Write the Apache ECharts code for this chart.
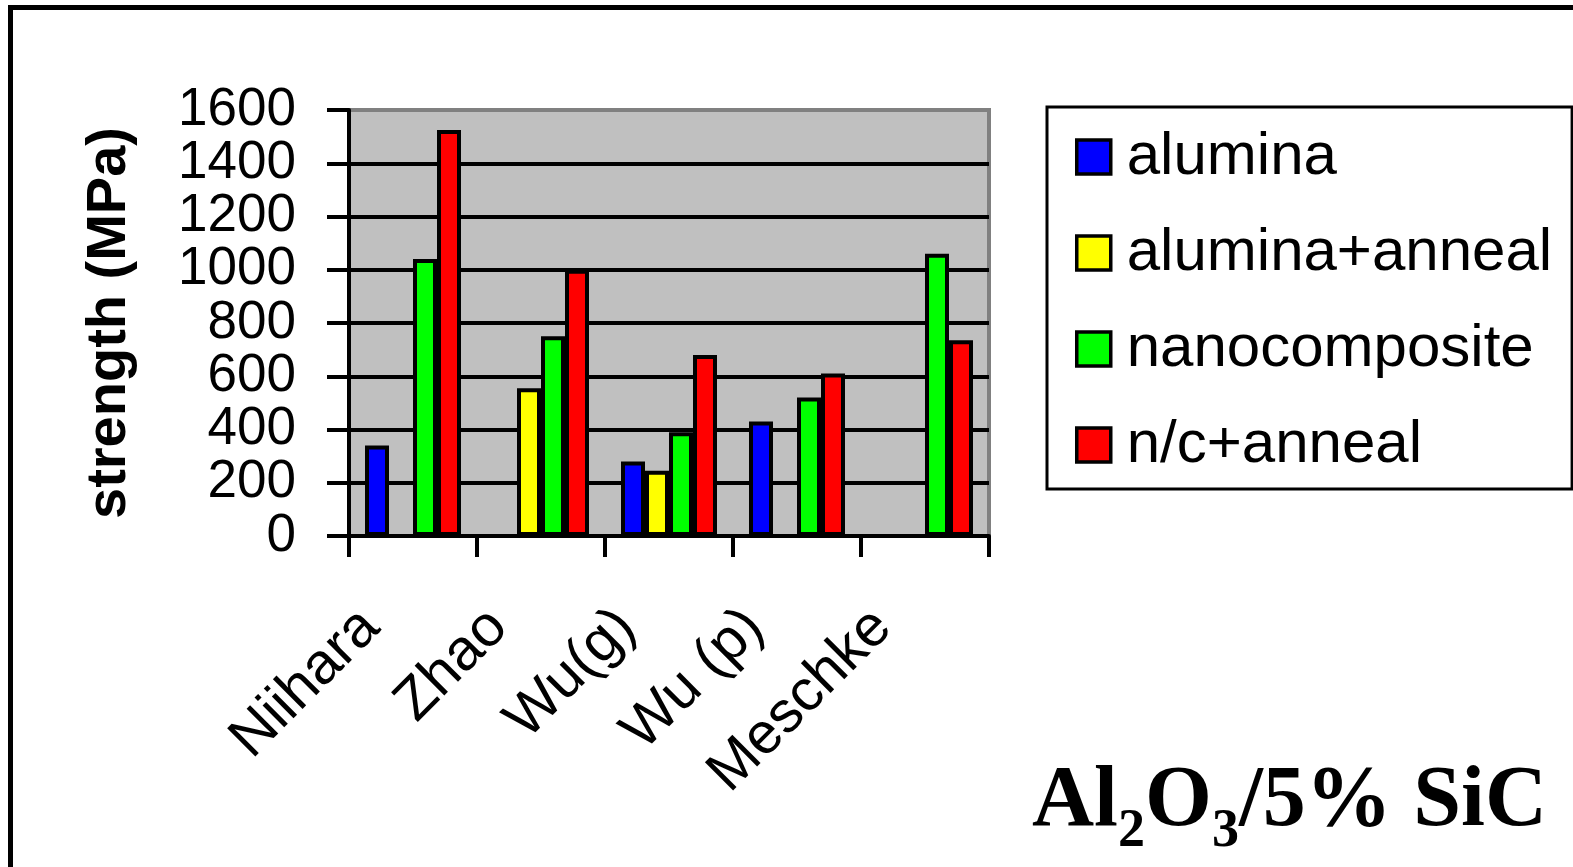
<!DOCTYPE html>
<html>
<head>
<meta charset="utf-8">
<title>Al2O3/5% SiC strength</title>
<script src="https://cdn.jsdelivr.net/npm/echarts@6/dist/echarts.min.js"></script>
<style>
  html, body { margin: 0; padding: 0; background: #fff; }
  #chart { width: 1573px; height: 867px; }
</style>
</head>
<body>
<div id="chart"></div>
<script>
// Bend strength by study and processing route
const categories = ['Niihara', 'Zhao', 'Wu(g)', 'Wu (p)', 'Meschke'];
const seriesNames = ['alumina', 'alumina+anneal', 'nanocomposite', 'n/c+anneal'];
const alumina = [340, null, 280, 430, null];
const aluminaAnneal = [null, 555, 245, null, null];
const nanocomposite = [1040, 750, 390, 520, 1060];
const ncAnneal = [1525, 1000, 680, 610, 735];
const yTicks = [0, 200, 400, 600, 800, 1000, 1200, 1400, 1600];

const seriesValues = [alumina, aluminaAnneal, nanocomposite, ncAnneal];
const seriesColors = ['#0000FF', '#FFFF00', '#00FF00', '#FF0000'];

const SANS = '"Liberation Sans", Arial, Helvetica, sans-serif';
const SERIF = '"Liberation Serif", "Times New Roman", Times, serif';

const chart = echarts.init(document.getElementById('chart'), null, { renderer: 'canvas' });

const option = {
  animation: false,
  backgroundColor: '#ffffff',
  grid: {
    left: 349, top: 110, width: 640, height: 426,
    show: true,
    backgroundColor: '#C0C0C0',
    borderColor: '#808080',
    borderWidth: 4,
    outerBoundsMode: 'none',
    containLabel: false
  },
  legend: {
    orient: 'vertical',
    left: 1047, top: 107,
    padding: [18, 20, 12, 28],
    itemWidth: 34, itemHeight: 34,
    itemGap: 32,
    icon: 'rect',
    borderColor: '#000', borderWidth: 3,
    backgroundColor: '#fff',
    itemStyle: { borderColor: '#000', borderWidth: 3.5 },
    textStyle: {
      fontFamily: SANS, fontSize: 60, color: '#000',
      lineHeight: 64, padding: [0, 0, 0, 11]
    },
    data: seriesNames
  },
  xAxis: {
    type: 'category',
    data: categories,
    boundaryGap: true,
    axisLine: { show: true, lineStyle: { color: '#000', width: 4 } },
    axisTick: { show: true, length: 21, lineStyle: { color: '#000', width: 4 } },
    axisLabel: {
      interval: 0, rotate: 45, margin: 40,
      fontFamily: SANS, fontSize: 58, color: '#000',
      padding: [0, 60, 0, 0]
    },
    splitLine: { show: false }
  },
  yAxis: {
    type: 'value',
    min: 0, max: 1600, interval: 200,
    name: 'strength (MPa)',
    nameLocation: 'middle',
    nameGap: 211,
    nameRotate: 90,
    nameTextStyle: { fontFamily: SANS, fontSize: 56, fontWeight: 'bold', color: '#000' },
    axisLine: { show: true, lineStyle: { color: '#000', width: 4 } },
    axisTick: { show: true, length: 22, lineStyle: { color: '#000', width: 4 } },
    axisLabel: {
      interval: 0,
      margin: 53, fontFamily: SANS, fontSize: 53, color: '#000',
      showMinLabel: true, showMaxLabel: true, hideOverlap: false,
      formatter: function (v) { return yTicks.indexOf(v) >= 0 ? String(v) : ''; }
    },
    splitLine: { show: true, showMinLine: false, showMaxLine: false, lineStyle: { color: '#000', width: 4 } }
  },
  series: seriesNames.map(function (name, i) {
    return {
      name: name,
      type: 'bar',
      data: seriesValues[i],
      barGap: '0%',
      barCategoryGap: '25%',
      itemStyle: { color: seriesColors[i], borderColor: '#000', borderWidth: 4 },
      emphasis: { disabled: true }
    };
  }),
  graphic: [
    {
      type: 'rect',
      silent: true,
      shape: { x: 10.5, y: 7.5, width: 1600, height: 900 },
      style: { fill: 'none', stroke: '#000', lineWidth: 5 },
      z: 100
    },
    {
      type: 'text',
      silent: true,
      left: 1032, top: 760,
      style: {
        text: '{m|Al}{s|2}{m|O}{s|3}{m|/5% SiC}',
        rich: {
          m: { fontFamily: SERIF, fontSize: 86, fontWeight: 'bold', color: '#000', lineHeight: 112 },
          s: { fontFamily: SERIF, fontSize: 54, fontWeight: 'bold', color: '#000', lineHeight: 54, verticalAlign: 'bottom' }
        }
      }
    }
  ]
};

chart.setOption(option);
</script>
</body>
</html>
